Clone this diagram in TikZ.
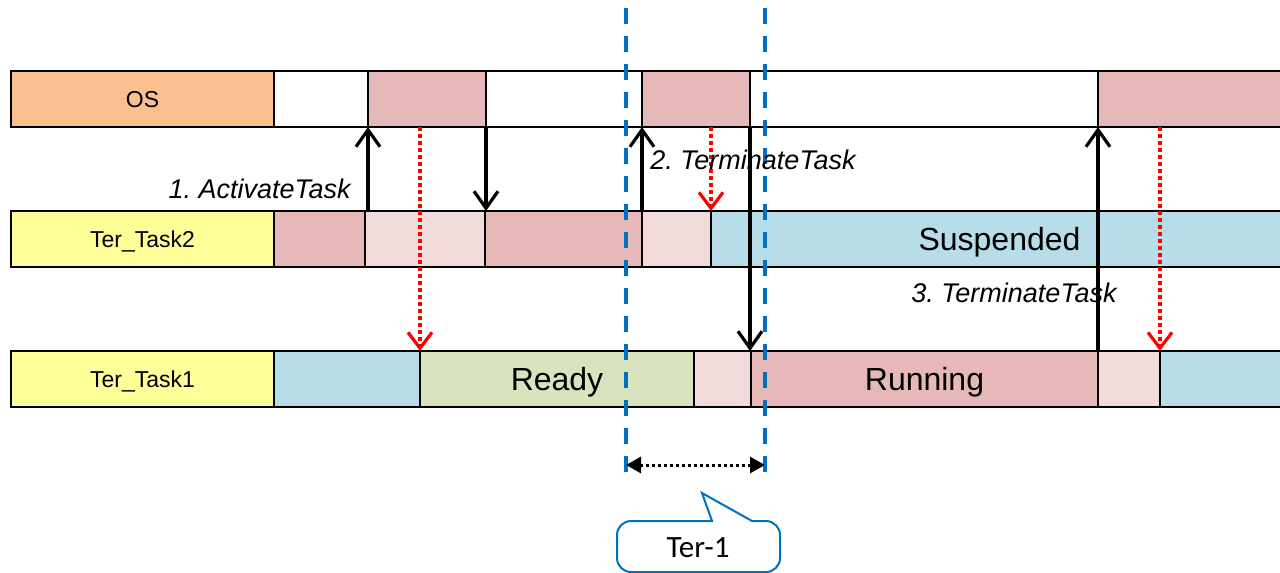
\documentclass[tikz,border=0pt]{standalone}
\usepackage{fontspec}
\setmainfont{Liberation Sans}
\newfontfamily\calib{Carlito}
\usetikzlibrary{arrows.meta,calc}
\definecolor{osor}{HTML}{FAC090}
\definecolor{ylw}{HTML}{FFFF99}
\definecolor{pnk}{HTML}{E6B9B8}
\definecolor{lpnk}{HTML}{F2DCDB}
\definecolor{lblu}{HTML}{B7DDE8}
\definecolor{grn}{HTML}{D7E4BD}
\definecolor{dblu}{HTML}{0070C0}
\frenchspacing
\begin{document}
\begin{tikzpicture}[x=0.5pt,y=-0.5pt,
  cell/.style={draw=black, line width=0.9pt, anchor=north west, minimum height=28pt,
    inner sep=0pt, outer sep=0pt, text depth=0pt, font=\fontsize{16}{19}\selectfont},
  lab/.style={cell, font=\fontsize{11.5}{14}\selectfont},
  call/.style={-{Straight Barb[length=8.5pt,width=12pt,line width=1.6pt]}, line width=1.7pt, draw=black},
  ret/.style={-{Straight Barb[length=8pt,width=12pt,line width=1.6pt]}, line width=1.7pt, draw=red,
    dash pattern=on 2pt off 1.5pt},
  svc/.style={font=\fontsize{13.5}{16}\selectfont\itshape, inner sep=0pt},
  vdash/.style={draw=dblu, line width=1.6pt, dash pattern=on 8pt off 6pt},
  span/.style={{Triangle[length=7.5pt,width=8pt]}-{Triangle[length=7.5pt,width=8pt]},
    line width=1.5pt, dash pattern=on 1.5pt off 1.5pt, draw=black}
]
\useasboundingbox (0,0) rectangle (1280,573);
% OS row
\node[lab, fill=osor, minimum width=131.5pt] (os0) at (11,71) {OS};
\node[cell, fill=white, minimum width=47pt] (os1) at (274,71) {};
\node[cell, fill=pnk, minimum width=59pt] (os2) at (368,71) {};
\node[cell, fill=white, minimum width=78pt] (os3) at (486,71) {};
\node[cell, fill=pnk, minimum width=54pt] (os4) at (642,71) {};
\node[cell, fill=white, minimum width=174pt] (os5) at (750,71) {};
\node[cell, fill=pnk, minimum width=95pt] (os6) at (1098,71) {};
% Ter_Task2 row
\node[lab, fill=ylw, minimum width=131.5pt] (t0) at (11,211) {Ter\_Task2};
\node[cell, fill=pnk, minimum width=45.5pt] (t1) at (274,211) {};
\node[cell, fill=lpnk, minimum width=60pt] (t2) at (365,211) {};
\node[cell, fill=pnk, minimum width=78.5pt] (t3) at (485,211) {};
\node[cell, fill=lpnk, minimum width=34.5pt] (t4) at (642,211) {};
\node[cell, fill=lblu, minimum width=288.5pt] (t5) at (711,211) {Suspended};
% Ter_Task1 row
\node[lab, fill=ylw, minimum width=131.5pt] (u0) at (11,351) {Ter\_Task1};
\node[cell, fill=lblu, minimum width=73pt] (u1) at (274,351) {};
\node[cell, fill=grn, minimum width=137pt] (u2) at (420,351) {Ready};
\node[cell, fill=lpnk, minimum width=28.5pt] (u3) at (694,351) {};
\node[cell, fill=pnk, minimum width=173.5pt] (u4) at (751,351) {Running};
\node[cell, fill=lpnk, minimum width=31pt] (u5) at (1098,351) {};
\node[cell, fill=lblu, minimum width=64pt] (u6) at (1160,351) {};
% blue dashed markers
\coordinate (d1t) at (626,8);
\coordinate (d1b) at (626,472);
\coordinate (d2t) at (765,8);
\coordinate (d2b) at (765,472);
\draw[vdash] (d1t) -- (d1b);
\draw[vdash] (d2t) -- (d2b);
% service calls and returns
\draw[call] (os2.south west |- t2.north) -- (os2.south west);
\draw[call] (os3.south west) -- (os3.south west |- t3.north);
\draw[ret] (u2.north west |- os2.south) -- (u2.north west);
\draw[call] (t4.north west) -- (os4.south west);
\draw[ret] (t5.north west |- os4.south) -- (t5.north west);
\draw[call] (os5.south west) -- (os5.south west |- u4.north);
\draw[call] (u5.north west) -- (os6.south west);
\draw[ret] (u6.north west |- os6.south) -- (u6.north west);
% labels
\node[svc, anchor=east] (l1) at (351,189) {1. ActivateTask};
\node[svc, anchor=west] (l2) at (650,160) {2. TerminateTask};
\node[svc, anchor=west] (l3) at (911,293) {3. TerminateTask};
% span arrow
\coordinate (m1) at (626,465);
\coordinate (m2) at (765,465);
\draw[span] (m1) -- (m2);
% callout
\draw[dblu, line width=1pt] (712,521) [rounded corners=7pt] -- (617,521) -- (617,572) -- (780,572) -- (780,521) [sharp corners] -- (752,521) -- (702,493) -- cycle;
\node[font=\calib\fontsize{15.5}{18}\selectfont, inner sep=0pt] (c1) at (698,548) {Ter-1};
\end{tikzpicture}
\end{document}
